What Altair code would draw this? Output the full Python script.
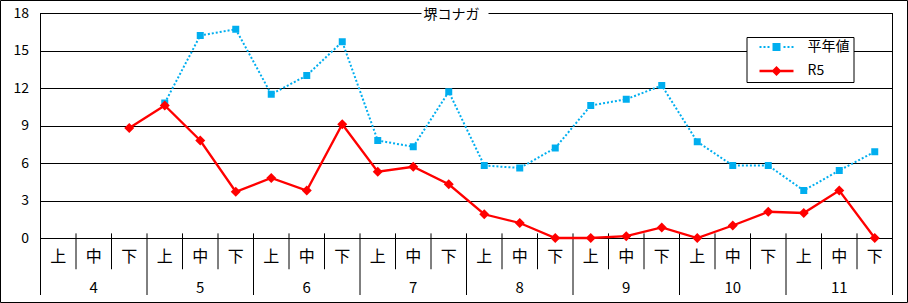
import altair as alt
import pandas as pd

# ---------------- data ----------------
months = [4, 5, 6, 7, 8, 9, 10, 11]
thirds = ["上", "中", "下"]
series_names = ["平年値", "R5"]
heinen = [None, None, None, 10.8, 16.2, 16.7, 11.5, 13.0, 15.7, 7.8, 7.3, 11.7,
          5.8, 5.6, 7.2, 10.6, 11.1, 12.2, 7.7, 5.8, 5.8, 3.8, 5.4, 6.9]
r5 = [None, None, 8.8, 10.6, 7.8, 3.7, 4.8, 3.8, 9.1, 5.3, 5.7, 4.3,
      1.9, 1.2, 0.0, 0.0, 0.15, 0.85, 0.0, 1.0, 2.1, 2.0, 3.8, 0.0]
y_ticks = [0, 3, 6, 9, 12, 15, 18]
title_text = "堺コナガ"

BLUE = "#00AEEF"
RED = "#FF0000"
FONT = "Noto Sans CJK JP"

n = len(months) * len(thirds)
Y_MIN, Y_MAX = -4.56, 18

df = pd.DataFrame({
    "pos": [i + 0.5 for i in range(n)],
    "third": thirds * len(months),
    "heinen": heinen,
    "r5": r5,
})
month_df = pd.DataFrame({
    "pos": [3 * k + 1.5 for k in range(len(months))],
    "month": [str(m) for m in months],
})
sep_rows = []
for b in range(n + 1):
    if b in (0, n):
        sep_rows.append({"b": b, "top": Y_MAX, "bot": Y_MIN})
    elif b % 3 == 0:
        sep_rows.append({"b": b, "top": 0.37, "bot": Y_MIN})
    else:
        sep_rows.append({"b": b, "top": 0.37, "bot": -2.5})
sep_df = pd.DataFrame(sep_rows)
legend_df = pd.DataFrame({"series": series_names, "pos": [0.5, 1.5]})
one_df = pd.DataFrame({"a": [0]})

xsc = alt.Scale(domain=[0, n], nice=False, zero=False)
ysc = alt.Scale(domain=[Y_MIN, Y_MAX], nice=False, zero=False)
yax = alt.Axis(
    values=y_ticks, grid=True, gridColor="black", gridOpacity=1, gridWidth=1,
    domain=False, ticks=False, labelFont=FONT, labelFontSize=14, labelColor="black",
    labelPadding=12, title=None)


def Y(field=None, datum=None):
    if datum is not None:
        return alt.Y(datum=datum, type="quantitative", scale=ysc, axis=yax)
    return alt.Y(field, type="quantitative", scale=ysc, axis=yax)


X = lambda f: alt.X(f, type="quantitative", scale=xsc, axis=None)


# ---------------- legend symbol paths (unit coords, scale 17px) ----------------
def px(v):
    return round(v / 17.0, 4)


def rect_path(x0, x1, y0, y1):
    return f"M{px(x0)},{px(y0)}L{px(x1)},{px(y0)}L{px(x1)},{px(y1)}L{px(x0)},{px(y1)}Z"


blue_path = ""
x = -17
while x < 17:
    if not (-6 < x < 4):
        blue_path += rect_path(x, x + 2, -1, 1)
    x += 4
blue_path += rect_path(-4, 4, -4, 4)
red_path = rect_path(-17, 17, -1.2, 1.2) + f"M{px(0)},{px(-5)}L{px(5)},{px(0)}L{px(0)},{px(5)}L{px(-5)},{px(0)}Z"

# ---------------- layers ----------------
seps = alt.Chart(sep_df).mark_rule(color="black", strokeWidth=1).encode(
    x=X("b"), y=Y("top"), y2="bot",
)

title_bg = alt.Chart(one_df).mark_rect(fill="white", stroke=None).encode(
    x=alt.value(381), x2=alt.value(448), y=alt.value(-6), y2=alt.value(9)
)
title_txt = alt.Chart(one_df).mark_text(
    text=title_text, font=FONT, fontSize=14, color="black", align="center", baseline="middle"
).encode(x=alt.value(411), y=alt.value(2))

frame = alt.Chart(one_df).mark_rect(fill="transparent", stroke="black", strokeWidth=1).encode(
    x=alt.value(-40), x2=alt.value(867), y=alt.value(-12.5), y2=alt.value(289.5)
)

blue_line = alt.Chart(df).mark_line(color=BLUE, strokeWidth=2, strokeDash=[2, 2]).encode(
    x=X("pos"), y=Y("heinen"),
)
blue_pts = alt.Chart(df).mark_point(shape="square", filled=True, size=49, color=BLUE, opacity=1).encode(
    x=X("pos"), y=Y("heinen"),
)
red_line = alt.Chart(df).mark_line(color=RED, strokeWidth=2.3).encode(
    x=X("pos"), y=Y("r5"),
)
red_pts = alt.Chart(df).mark_point(shape="diamond", filled=True, size=100, color=RED, opacity=1).encode(
    x=X("pos"), y=Y("r5"),
)

third_txt = alt.Chart(df).mark_text(font=FONT, fontSize=16, color="black", baseline="middle").encode(
    x=X("pos"), y=Y(datum=-1.55), text="third:N",
)
month_txt = alt.Chart(month_df).mark_text(font=FONT, fontSize=15, color="black", baseline="middle").encode(
    x=X("pos"), y=Y(datum=-3.96), text="month:N",
)

leg = alt.Legend(
    title=None, orient="none", legendX=706, legendY=24, direction="vertical",
    strokeColor="black", fillColor="white", padding=4, cornerRadius=0,
    clipHeight=12, rowPadding=10, symbolSize=1156, symbolStrokeWidth=0,
    symbolOpacity=1, symbolOffset=9, labelOffset=14,
    labelFont=FONT, labelFontSize=14, labelColor="black",
    labelExpr="datum.label + '\u2002'",
)
legend_layer = alt.Chart(legend_df).transform_filter("false").mark_point(
    filled=True, opacity=1, size=1156
).encode(
    x=X("pos"),
    y=Y(datum=1),
    color=alt.Color("series:N", scale=alt.Scale(domain=series_names, range=[BLUE, RED]), legend=leg),
    shape=alt.Shape("series:N", scale=alt.Scale(domain=series_names, range=[blue_path, red_path]), legend=leg),
)

chart = alt.layer(
    seps, title_bg, title_txt, blue_line, blue_pts, red_line, red_pts,
    third_txt, month_txt, legend_layer, frame
).properties(
    width=852, height=282,
    padding={"left": 40.5, "top": 13, "right": 15.5, "bottom": 8},
    autosize=alt.AutoSizeParams(type="none"),
    background="white",
).configure_view(strokeWidth=0)

chart.save("out.html", embed_options={"renderer": "svg", "actions": False})
